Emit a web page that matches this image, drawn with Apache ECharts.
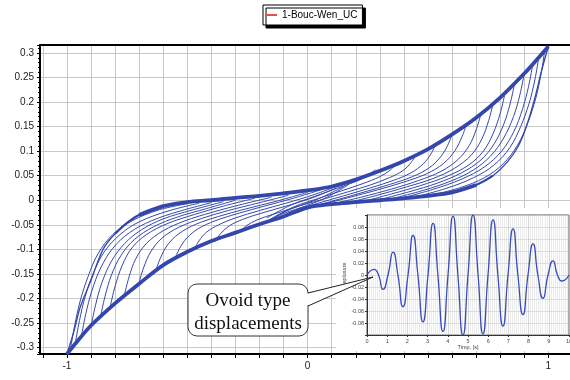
<!DOCTYPE html>
<html>
<head>
<meta charset="utf-8">
<script src="https://cdn.jsdelivr.net/npm/echarts@6/dist/echarts.min.js"></script>
<style>
  html, body { margin: 0; padding: 0; background: #fff; }
  #chart { width: 570px; height: 380px; }
</style>
</head>
<body>
<div id="chart"></div>
<script>
// outer loop - loading branch (x going up)
const outerLoadX = [-1, -0.97, -0.945, -0.9, -0.85, -0.8, -0.75, -0.7, -0.6, -0.5, -0.4, -0.3, -0.2, -0.1, 0, 0.1, 0.2, 0.3, 0.4, 0.5, 0.6, 0.7, 0.8, 0.9, 0.95, 1];
const outerLoadY = [-0.313, -0.265, -0.218, -0.163, -0.1, -0.068, -0.046, -0.03, -0.012, -0.004, 0.0, 0.005, 0.009, 0.014, 0.02, 0.028, 0.042, 0.06, 0.08, 0.104, 0.134, 0.168, 0.209, 0.258, 0.285, 0.313];
// outer loop - unloading branch (x going down)
const outerUnloadX = [1, 0.97, 0.943, 0.91, 0.876, 0.83, 0.77, 0.7, 0.6, 0.5, 0.4, 0.3, 0.2, 0.1, 0, -0.1, -0.2, -0.3, -0.4, -0.5, -0.6, -0.7, -0.8, -0.9, -0.95, -1];
const outerUnloadY = [0.313, 0.26, 0.206, 0.152, 0.111, 0.078, 0.05, 0.031, 0.016, 0.009, 0.004, 0.0, -0.004, -0.008, -0.015, -0.033, -0.049, -0.066, -0.083, -0.105, -0.132, -0.17, -0.21, -0.255, -0.283, -0.313];

// reversal curves on the left (leave the lower band, climb to the upper band)
const riseCurves = [
  [[-0.985,-0.302],[-0.968,-0.255],[-0.945,-0.205],[-0.912,-0.155],[-0.87,-0.108],[-0.81,-0.07],[-0.73,-0.042],[-0.62,-0.02],[-0.5,-0.007]],
  [[-0.965,-0.29],[-0.948,-0.245],[-0.925,-0.197],[-0.89,-0.148],[-0.845,-0.105],[-0.78,-0.07],[-0.7,-0.044],[-0.58,-0.022],[-0.45,-0.006]],
  [[-0.94,-0.277],[-0.922,-0.232],[-0.897,-0.185],[-0.86,-0.138],[-0.81,-0.098],[-0.74,-0.066],[-0.65,-0.042],[-0.53,-0.022],[-0.4,-0.005]],
  [[-0.9,-0.257],[-0.882,-0.215],[-0.855,-0.168],[-0.815,-0.124],[-0.76,-0.088],[-0.69,-0.06],[-0.6,-0.038],[-0.48,-0.02],[-0.35,-0.003]],
  [[-0.86,-0.236],[-0.842,-0.196],[-0.815,-0.152],[-0.775,-0.112],[-0.72,-0.08],[-0.64,-0.054],[-0.54,-0.034],[-0.42,-0.017],[-0.3,0.0]],
  [[-0.82,-0.216],[-0.8,-0.175],[-0.77,-0.132],[-0.73,-0.097],[-0.67,-0.07],[-0.58,-0.047],[-0.47,-0.029],[-0.35,-0.012],[-0.22,0.004]],
  [[-0.76,-0.19],[-0.742,-0.156],[-0.715,-0.12],[-0.67,-0.088],[-0.6,-0.062],[-0.51,-0.042],[-0.4,-0.025],[-0.27,-0.008],[-0.15,0.006]],
  [[-0.7,-0.167],[-0.682,-0.138],[-0.652,-0.105],[-0.605,-0.077],[-0.535,-0.055],[-0.44,-0.037],[-0.33,-0.021],[-0.2,-0.005],[-0.08,0.01]],
  [[-0.63,-0.142],[-0.612,-0.118],[-0.582,-0.091],[-0.535,-0.068],[-0.465,-0.049],[-0.37,-0.033],[-0.26,-0.018],[-0.13,-0.002],[0,0.016]],
  [[-0.55,-0.118],[-0.532,-0.098],[-0.502,-0.077],[-0.455,-0.058],[-0.385,-0.042],[-0.29,-0.027],[-0.18,-0.012],[-0.06,0.004],[0.06,0.022]],
  [[-0.47,-0.099],[-0.452,-0.083],[-0.42,-0.065],[-0.37,-0.05],[-0.3,-0.036],[-0.2,-0.021],[-0.09,-0.006],[0.03,0.012],[0.13,0.03]],
  [[-0.38,-0.08],[-0.36,-0.067],[-0.325,-0.052],[-0.27,-0.039],[-0.19,-0.026],[-0.09,-0.012],[0.02,0.005],[0.12,0.025]],
  [[-0.28,-0.064],[-0.255,-0.052],[-0.21,-0.04],[-0.14,-0.028],[-0.05,-0.014],[0.05,0.004],[0.15,0.028]],
  [[-0.17,-0.046],[-0.14,-0.036],[-0.09,-0.025],[-0.01,-0.012],[0.08,0.006],[0.17,0.032]]
];

// reversal curves on the right (leave the upper band, drop to the lower band)
const fallCurves = [
  [[0.985,0.305],[0.97,0.258],[0.948,0.208],[0.915,0.158],[0.872,0.112],[0.812,0.074],[0.735,0.046],[0.63,0.025],[0.5,0.009]],
  [[0.96,0.29],[0.944,0.245],[0.92,0.197],[0.885,0.15],[0.84,0.107],[0.775,0.072],[0.69,0.046],[0.575,0.024],[0.44,0.006]],
  [[0.935,0.276],[0.918,0.232],[0.893,0.186],[0.857,0.14],[0.806,0.1],[0.735,0.068],[0.64,0.043],[0.52,0.022],[0.38,0.003]],
  [[0.9,0.258],[0.882,0.215],[0.855,0.17],[0.815,0.127],[0.76,0.09],[0.69,0.062],[0.6,0.04],[0.48,0.02],[0.34,0.002]],
  [[0.86,0.238],[0.842,0.198],[0.815,0.155],[0.775,0.115],[0.72,0.082],[0.64,0.056],[0.54,0.035],[0.42,0.017],[0.29,0.0]],
  [[0.82,0.218],[0.8,0.177],[0.77,0.135],[0.73,0.1],[0.67,0.072],[0.58,0.049],[0.47,0.03],[0.35,0.013],[0.22,-0.004]],
  [[0.77,0.196],[0.752,0.162],[0.724,0.125],[0.68,0.092],[0.61,0.065],[0.52,0.044],[0.41,0.027],[0.28,0.009],[0.15,-0.007]],
  [[0.72,0.176],[0.702,0.146],[0.672,0.112],[0.625,0.083],[0.555,0.059],[0.46,0.04],[0.35,0.023],[0.22,0.006],[0.08,-0.01]],
  [[0.66,0.155],[0.642,0.13],[0.612,0.101],[0.565,0.075],[0.495,0.054],[0.4,0.037],[0.29,0.021],[0.16,0.004],[0.02,-0.014]],
  [[0.6,0.134],[0.582,0.112],[0.552,0.088],[0.505,0.066],[0.435,0.048],[0.34,0.032],[0.23,0.016],[0.1,-0.002],[-0.04,-0.02]],
  [[0.53,0.112],[0.512,0.094],[0.48,0.074],[0.43,0.056],[0.36,0.041],[0.26,0.025],[0.15,0.009],[0.03,-0.008],[-0.09,-0.028]],
  [[0.45,0.092],[0.43,0.077],[0.395,0.06],[0.34,0.046],[0.26,0.031],[0.16,0.016],[0.05,0.0],[-0.06,-0.016],[-0.15,-0.038]],
  [[0.37,0.075],[0.345,0.062],[0.3,0.048],[0.23,0.034],[0.14,0.019],[0.04,0.003],[-0.06,-0.014],[-0.16,-0.04]],
  [[0.28,0.062],[0.25,0.05],[0.2,0.038],[0.12,0.024],[0.03,0.008],[-0.07,-0.01],[-0.17,-0.036]]
];

// inset: displacement time history (peaks and zero crossings)
const insetT = [0, 0.35, 0.57, 0.79, 1.04, 1.29, 1.53, 1.78, 2.03, 2.28, 2.52, 2.77, 3.02, 3.27, 3.51, 3.76, 4.01, 4.26, 4.5, 4.75, 5.0, 5.25, 5.5, 5.74, 5.99, 6.24, 6.48, 6.73, 6.98, 7.23, 7.47, 7.72, 7.97, 8.22, 8.46, 8.71, 8.96, 9.21, 9.43, 9.65, 10];
const insetY = [0, 0.0095, 0, -0.024, 0, 0.038, 0, -0.053, 0, 0.066, 0, -0.078, 0, 0.086, 0, -0.094, 0, 0.098, 0, -0.1, 0, 0.1, 0, -0.098, 0, 0.092, 0, -0.085, 0, 0.077, 0, -0.066, 0, 0.052, 0, -0.039, 0, 0.0235, 0, -0.010, 0];

const SERIES_NAME = '1-Bouc-Wen_UC';
const blue = '#3447ab';
const font = 'Liberation Sans';

const toPts = (xs, ys) => xs.map((x, i) => [x, ys[i]]);
const loadPts = toPts(outerLoadX, outerLoadY);
const unloadPts = toPts(outerUnloadX, outerUnloadY);

const series = [];
function addLoopLine(data, width) {
  series.push({
    name: SERIES_NAME,
    type: 'line',
    xAxisIndex: 0,
    yAxisIndex: 0,
    data: data,
    symbol: 'none',
    smooth: 0.35,
    silent: true,
    z: 2,
    lineStyle: { color: blue, width: width },
    itemStyle: { color: blue }
  });
}
// the thick bands where all the cycles pile up
addLoopLine(loadPts.filter(p => p[0] >= -0.8), 2.2);
addLoopLine(unloadPts.filter(p => p[0] <= 0.8), 2.2);
addLoopLine(loadPts.filter(p => p[0] >= -0.7), 3.8);
addLoopLine(unloadPts.filter(p => p[0] <= 0.7), 3.8);
addLoopLine(loadPts, 1.3);
addLoopLine(unloadPts, 1.3);
riseCurves.forEach(c => addLoopLine(c, 1));
fallCurves.forEach(c => addLoopLine(c, 1));

series.push({
  name: 'inset',
  type: 'line',
  xAxisIndex: 1,
  yAxisIndex: 1,
  data: toPts(insetT, insetY),
  symbol: 'none',
  smooth: 0.6,
  silent: true,
  z: 7,
  lineStyle: { color: '#3a4cb5', width: 1.3 }
});

const chart = echarts.init(document.getElementById('chart'));
chart.setOption({
  animation: false,
  backgroundColor: '#fff',
  legend: {
    data: [{ name: SERIES_NAME, icon: 'rect', itemStyle: { color: '#e05050' } }],
    left: 263,
    top: 5,
    padding: [5, 5, 5, 3],
    itemWidth: 11,
    itemHeight: 2,
    backgroundColor: '#fff',
    borderColor: '#000',
    borderWidth: 1,
    borderRadius: 0,
    shadowColor: '#000',
    shadowBlur: 0,
    shadowOffsetX: 3,
    shadowOffsetY: 3,
    textStyle: { fontFamily: font, fontSize: 10, color: '#000' }
  },
  grid: [
    { left: 40, top: 45, width: 530, height: 309, outerBoundsMode: 'none', containLabel: false },
    { left: 367, top: 215, width: 202, height: 120, outerBoundsMode: 'none', containLabel: false,
      show: true, borderColor: '#555', borderWidth: 1, backgroundColor: 'rgba(0,0,0,0)', z: 6 }
  ],
  xAxis: [
    {
      type: 'value', gridIndex: 0, min: -1.112, max: 1.09, splitNumber: 22,
      axisLine: { onZero: false, lineStyle: { color: '#000', width: 2 } },
      axisTick: { show: true, length: 4, lineStyle: { color: '#000' } },
      axisLabel: {
        fontFamily: font, fontSize: 10, color: '#222', margin: 7,
        showMinLabel: false, showMaxLabel: false,
        formatter: v => Math.abs(v - Math.round(v)) < 1e-6 ? String(Math.round(v)) : ''
      },
      splitLine: { show: true, lineStyle: { color: '#c8c8c8', width: 1 } }
    },
    {
      type: 'value', gridIndex: 1, min: 0, max: 10, interval: 1, z: 6,
      axisLine: { onZero: false, lineStyle: { color: '#333', width: 1 } },
      axisTick: { length: 2, lineStyle: { color: '#333' } },
      axisLabel: { fontFamily: font, fontSize: 5.5, color: '#444', margin: 3 },
      splitLine: { show: true, lineStyle: { color: '#bdbdbd', width: 0.6 } },
      minorTick: { show: false, splitNumber: 10 },
      minorSplitLine: { show: true, lineStyle: { color: '#dedede', width: 0.6 } },
      name: 'Timp, [s]', nameLocation: 'middle', nameGap: 9,
      nameTextStyle: { fontFamily: font, fontSize: 5.5, color: '#444' }
    },
    {
      type: 'value', gridIndex: 0, position: 'top', min: -1.112, max: 1.09,
      axisLine: { show: true, onZero: false, lineStyle: { color: '#000', width: 2 } },
      axisTick: { show: false }, axisLabel: { show: false }, splitLine: { show: false }
    }
  ],
  yAxis: [
    {
      type: 'value', gridIndex: 0, min: -0.313, max: 0.316, splitNumber: 12,
      axisLine: { show: true, onZero: false, lineStyle: { color: '#000', width: 2 } },
      axisTick: { show: true, length: 3, lineStyle: { color: '#000' } },
      minorTick: { show: true, splitNumber: 5, length: 2, lineStyle: { color: '#000' } },
      axisLabel: {
        fontFamily: font, fontSize: 10, color: '#222', margin: 6,
        showMinLabel: false, showMaxLabel: false,
        formatter: v => {
          const k = v / 0.05;
          return Math.abs(k - Math.round(k)) < 1e-6 ? String(Number(v.toFixed(2))) : '';
        }
      },
      splitLine: { show: true, lineStyle: { color: '#c8c8c8', width: 1 } }
    },
    {
      type: 'value', gridIndex: 1, min: -0.1, max: 0.1, interval: 0.02, z: 6,
      axisLine: { show: true, onZero: false, lineStyle: { color: '#333', width: 1 } },
      axisTick: { show: true, length: 2, lineStyle: { color: '#333' } },
      axisLabel: {
        fontFamily: font, fontSize: 5.5, color: '#444', margin: 3,
        formatter: v => Math.abs(v) > 0.09 ? '' : String(Number(v.toFixed(2)))
      },
      splitLine: { show: true, lineStyle: { color: '#c4c4c4', width: 0.6 } },
      name: 'Deplasare', nameLocation: 'middle', nameGap: 17, nameRotate: 90,
      nameTextStyle: { fontFamily: font, fontSize: 5.5, color: '#444' }
    }
  ],
  graphic: {
    elements: [
      // white panel under the inset
      { type: 'rect', z: 5, silent: true, shape: { x: 336, y: 208, width: 234, height: 143 }, style: { fill: '#fff' } },
      // callout
      { type: 'rect', z: 20, silent: true, shape: { x: 188, y: 284, width: 120, height: 52, r: 9 },
        style: { fill: '#fff', stroke: '#333', lineWidth: 1 } },
      { type: 'polygon', z: 20, silent: true, shape: { points: [[307, 293.5], [373, 277], [307, 305.5]] },
        style: { fill: '#fff' } },
      { type: 'polyline', z: 20, silent: true, shape: { points: [[308, 293], [373, 277], [308, 306]] },
        style: { stroke: '#222', lineWidth: 1, fill: null } },
      { type: 'text', z: 21, silent: true, x: 248, y: 301,
        style: { text: 'Ovoid type', font: '19px "Liberation Serif"', fill: '#111',
                 align: 'center', verticalAlign: 'middle', textAlign: 'center', textVerticalAlign: 'middle' } },
      { type: 'text', z: 21, silent: true, x: 248, y: 324,
        style: { text: 'displacements', font: '19px "Liberation Serif"', fill: '#111',
                 align: 'center', verticalAlign: 'middle', textAlign: 'center', textVerticalAlign: 'middle' } }
    ]
  },
  series: series
});
</script>
</body>
</html>
